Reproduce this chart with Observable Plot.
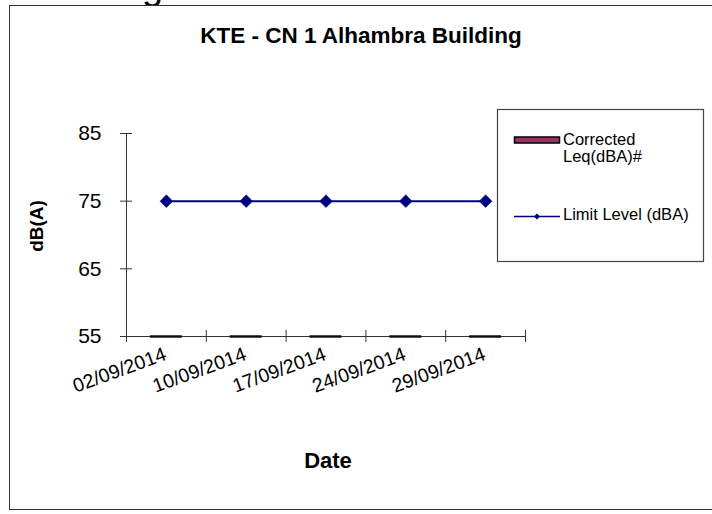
<!DOCTYPE html>
<html>
<head>
<meta charset="utf-8">
<script src="https://cdn.jsdelivr.net/npm/d3@7"></script>
<script src="https://cdn.jsdelivr.net/npm/@observablehq/plot@0.6"></script>
<style>
  html, body { margin: 0; padding: 0; background: #fff; }
  body { width: 712px; height: 514px; overflow: hidden; font-family: "Liberation Sans", Arial, sans-serif; }
  #wrap { position: relative; width: 712px; height: 514px; }
  #frame { position: absolute; left: 9px; top: 5px; width: 720px; height: 505px; border: 1.5px solid #333; box-sizing: border-box; }
  #chart { position: absolute; left: 0; top: 0; }
  #overlay { position: absolute; left: 0; top: 0; pointer-events: none; }
  #clip { position: absolute; left: 130px; top: 0; width: 60px; height: 5px; overflow: hidden; }
  #clip span { position: absolute; left: 12px; top: -33px; font-size: 38px; line-height: 38px; }
</style>
</head>
<body>
<div id="wrap">
  <div id="clip"><span>g</span></div>
  <div id="frame"></div>
  <div id="chart"></div>
  <svg id="overlay" width="712" height="514"></svg>
</div>
<script>
// ---- data ----
const dates = ["02/09/2014", "10/09/2014", "17/09/2014", "24/09/2014", "29/09/2014"];
const correctedLeq = [55, 55, 55, 55, 55];   // bars sit on the axis baseline
const limitLevel = [75, 75, 75, 75, 75];
const yTicks = [55, 65, 75, 85];
const title = "KTE - CN 1 Alhambra Building";
const xTitle = "Date";
const yTitle = "dB(A)";
const seriesNames = ["Corrected", "Leq(dBA)#", "Limit Level (dBA)"];

const rows = dates.map((d, i) => ({date: d, i, leq: correctedLeq[i], limit: limitLevel[i]}));
const boundaries = d3.range(dates.length + 1);

const diamond = {
  draw(context, size) {
    const h = Math.sqrt(size / 2);
    context.moveTo(0, -h);
    context.lineTo(h, 0);
    context.lineTo(0, h);
    context.lineTo(-h, 0);
    context.closePath();
  }
};

const navy = "#000080";
const plot = Plot.plot({
  width: 712,
  height: 514,
  marginLeft: 126,
  marginRight: 187,
  marginTop: 133,
  marginBottom: 178,
  style: {fontFamily: "'Liberation Sans', Arial, sans-serif", background: "transparent", color: "#000"},
  x: {type: "linear", domain: [0, dates.length]},
  y: {domain: [55, 85]},
  marks: [
    Plot.axisY({ticks: yTicks, tickSize: 6, tickPadding: 19, fontSize: 21, label: null, stroke: "#333"}),
    Plot.axisY({ticks: yTicks, tickSize: -6, tickFormat: () => "", label: null, stroke: "#333"}),
    Plot.axisX({ticks: boundaries, tickSize: 6, tickFormat: () => "", label: null, stroke: "#333"}),
    Plot.axisX({ticks: boundaries, tickSize: -6, tickFormat: () => "", label: null, stroke: "#333"}),
    Plot.ruleX([0], {stroke: "#333"}),
    Plot.ruleY([55], {x1: 0, x2: dates.length, stroke: "#333"}),
    // Corrected Leq bars (zero height at the baseline)
    Plot.ruleY(rows, {x1: d => d.i + 0.3, x2: d => d.i + 0.7, y: "leq", stroke: "#111", strokeWidth: 2.5}),
    // Limit level line
    Plot.line(rows, {x: d => d.i + 0.5, y: "limit", stroke: navy, strokeWidth: 2}),
    Plot.dot(rows, {x: d => d.i + 0.5, y: "limit", symbol: diamond, r: 5.1, fill: navy, stroke: navy, strokeWidth: 0.5}),
    // rotated date labels
    Plot.text(rows, {x: d => d.i + 0.5, y: "leq", text: "date", rotate: -20, textAnchor: "end", dx: -1, dy: 17, fontSize: 19.5, fill: "#000"})
  ]
});
document.getElementById("chart").appendChild(plot);

// ---- titles and legend ----
const ov = d3.select("#overlay");
const font = "'Liberation Sans', Arial, sans-serif";
ov.append("text").attr("x", 361).attr("y", 43).attr("text-anchor", "middle")
  .attr("font-family", font).attr("font-weight", "bold").attr("font-size", 22.5).text(title);
ov.append("text").attr("x", 328).attr("y", 468).attr("text-anchor", "middle")
  .attr("font-family", font).attr("font-weight", "bold").attr("font-size", 22).text(xTitle);
ov.append("text").attr("transform", "translate(43,226) rotate(-90)").attr("text-anchor", "middle")
  .attr("font-family", font).attr("font-weight", "bold").attr("font-size", 19).text(yTitle);

const lg = ov.append("g");
lg.append("rect").attr("x", 497.5).attr("y", 109.5).attr("width", 206).attr("height", 152)
  .attr("fill", "#fff").attr("stroke", "#444").attr("stroke-width", 1.2);
lg.append("rect").attr("x", 514.5).attr("y", 137).attr("width", 45).attr("height", 6)
  .attr("fill", "#993366").attr("stroke", "#000").attr("stroke-width", 1.5);
lg.append("text").attr("x", 563).attr("y", 145).attr("font-family", font).attr("font-size", 16.5).text(seriesNames[0]);
lg.append("text").attr("x", 563).attr("y", 162).attr("font-family", font).attr("font-size", 16.5).text(seriesNames[1]);
lg.append("line").attr("x1", 514).attr("x2", 560).attr("y1", 216.5).attr("y2", 216.5)
  .attr("stroke", navy).attr("stroke-width", 1.5);
lg.append("path").attr("d", "M537,213.5L540,216.5L537,219.5L534,216.5Z").attr("fill", navy);
lg.append("text").attr("x", 563).attr("y", 220).attr("font-family", font).attr("font-size", 16.5).text(seriesNames[2]);
</script>
</body>
</html>
